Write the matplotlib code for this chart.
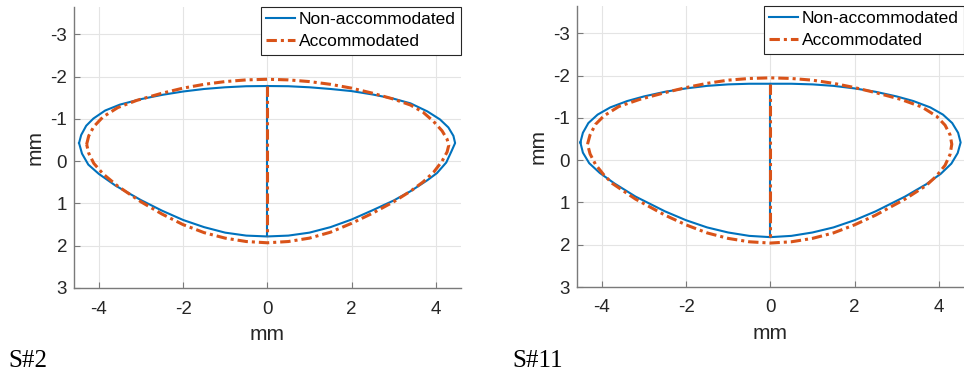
import numpy as np
import matplotlib.pyplot as plt

# lens profiles (mm); y grows downwards (posterior)
# S#2, non-accommodated
s2_na_ant_x = [-4.47, -4.42, -4.30, -4.13, -3.85, -3.50, -3.00, -2.50, -2.00, -1.50, -1.00, -0.50, 0.00,
               0.50, 1.00, 1.50, 2.00, 2.50, 3.00, 3.40, 3.80, 4.10, 4.30, 4.42, 4.46]
s2_na_ant_y = [-0.43, -0.62, -0.84, -1.01, -1.20, -1.34, -1.47, -1.57, -1.65, -1.71, -1.75, -1.775, -1.78,
               -1.775, -1.75, -1.71, -1.66, -1.58, -1.48, -1.37, -1.18, -0.99, -0.80, -0.60, -0.43]
s2_na_post_x = [-4.47, -4.40, -4.25, -4.00, -3.60, -3.00, -2.50, -2.00, -1.50, -1.00, -0.50, 0.00,
                0.50, 1.00, 1.50, 2.00, 2.50, 3.00, 3.40, 3.80, 4.03, 4.25, 4.38, 4.46]
s2_na_post_y = [-0.43, -0.18, 0.08, 0.30, 0.58, 0.92, 1.17, 1.39, 1.56, 1.69, 1.76, 1.78,
                1.76, 1.69, 1.56, 1.38, 1.16, 0.93, 0.71, 0.45, 0.28, 0.03, -0.25, -0.43]
# S#2, accommodated
s2_ac_ant_x = [-4.29, -4.24, -4.12, -3.90, -3.55, -3.10, -2.50, -2.00, -1.50, -1.00, -0.50, 0.00,
               0.50, 1.00, 1.50, 2.00, 2.50, 3.00, 3.40, 3.70, 3.95, 4.15, 4.27, 4.31]
s2_ac_ant_y = [-0.40, -0.60, -0.82, -1.05, -1.27, -1.44, -1.61, -1.73, -1.82, -1.885, -1.925, -1.94,
               -1.925, -1.885, -1.82, -1.73, -1.61, -1.47, -1.33, -1.16, -0.94, -0.72, -0.52, -0.38]
s2_ac_post_x = [-4.29, -4.24, -4.12, -3.90, -3.55, -3.00, -2.50, -2.00, -1.50, -1.00, -0.50, 0.00,
                0.50, 1.00, 1.50, 2.00, 2.50, 3.00, 3.40, 3.70, 3.95, 4.15, 4.27, 4.31]
s2_ac_post_y = [-0.40, -0.19, 0.05, 0.30, 0.59, 0.96, 1.25, 1.50, 1.69, 1.82, 1.90, 1.93,
                1.90, 1.82, 1.68, 1.47, 1.23, 0.96, 0.71, 0.49, 0.26, 0.00, -0.22, -0.38]
s2_center = [-1.79, 1.78]

# S#11, non-accommodated
s11_na_ant_x = [-4.51, -4.45, -4.32, -4.10, -3.80, -3.40, -3.00, -2.50, -2.00, -1.50, -1.00, -0.50, 0.00,
                0.50, 1.00, 1.50, 2.00, 2.50, 3.00, 3.40, 3.80, 4.10, 4.32, 4.46, 4.52]
s11_na_ant_y = [-0.42, -0.65, -0.88, -1.08, -1.25, -1.40, -1.51, -1.62, -1.70, -1.76, -1.795, -1.81, -1.81,
                -1.81, -1.795, -1.76, -1.70, -1.62, -1.51, -1.40, -1.25, -1.08, -0.88, -0.65, -0.42]
s11_na_post_x = [-4.51, -4.45, -4.30, -4.05, -3.70, -3.20, -2.50, -2.00, -1.50, -1.00, -0.50, 0.00,
                 0.50, 1.00, 1.50, 2.00, 2.50, 3.20, 3.70, 4.05, 4.30, 4.45, 4.52]
s11_na_post_y = [-0.42, -0.18, 0.07, 0.30, 0.55, 0.86, 1.21, 1.42, 1.59, 1.71, 1.79, 1.82,
                 1.79, 1.71, 1.59, 1.42, 1.21, 0.86, 0.57, 0.32, 0.08, -0.17, -0.42]
# S#11, accommodated
s11_ac_ant_x = [-4.34, -4.28, -4.15, -3.95, -3.60, -3.10, -2.50, -2.00, -1.50, -1.00, -0.50, 0.00,
                0.50, 1.00, 1.50, 2.00, 2.50, 3.10, 3.60, 3.95, 4.15, 4.27, 4.31]
s11_ac_ant_y = [-0.38, -0.60, -0.85, -1.05, -1.27, -1.44, -1.60, -1.72, -1.82, -1.895, -1.935, -1.95,
                -1.935, -1.895, -1.82, -1.72, -1.60, -1.44, -1.26, -1.04, -0.83, -0.60, -0.38]
s11_ac_post_x = [-4.34, -4.28, -4.15, -3.95, -3.75, -3.20, -2.50, -2.00, -1.50, -1.00, -0.50, 0.00,
                 0.50, 1.00, 1.50, 2.00, 2.50, 3.20, 3.70, 3.95, 4.15, 4.27, 4.31]
s11_ac_post_y = [-0.38, -0.15, 0.10, 0.35, 0.55, 0.92, 1.30, 1.53, 1.72, 1.85, 1.93, 1.96,
                 1.93, 1.85, 1.72, 1.53, 1.30, 0.92, 0.60, 0.37, 0.12, -0.14, -0.38]
s11_center = [-1.81, 1.81]

ticks_x = [-4, -2, 0, 2, 4]
ticks_y = [-3, -2, -1, 0, 1, 2, 3]

BLUE = '#0072BD'
ORANGE = '#D95319'
DASHDOT = (0, (3.4, 1.3, 1.0, 1.3))

plt.rcParams['font.family'] = ['Liberation Sans', 'DejaVu Sans']
plt.rcParams['axes.unicode_minus'] = False
fig = plt.figure(figsize=(9.64, 3.72), dpi=100)

panels = [
    ([74 / 964, 84 / 372, 387 / 964, 281 / 372], 'S#2', 8,
     (s2_na_ant_x, s2_na_ant_y, s2_na_post_x, s2_na_post_y),
     (s2_ac_ant_x, s2_ac_ant_y, s2_ac_post_x, s2_ac_post_y), s2_center),
    ([577 / 964, 85 / 372, 387 / 964, 281 / 372], 'S#11', 512,
     (s11_na_ant_x, s11_na_ant_y, s11_na_post_x, s11_na_post_y),
     (s11_ac_ant_x, s11_ac_ant_y, s11_ac_post_x, s11_ac_post_y), s11_center),
]

for pos, tag, tag_x, na, ac, center in panels:
    ax = fig.add_axes(pos)
    # outline = anterior surface then posterior back to the start
    na_x = np.r_[na[0], na[2][::-1]]
    na_y = np.r_[na[1], na[3][::-1]]
    ac_x = np.r_[ac[0], ac[2][::-1]]
    ac_y = np.r_[ac[1], ac[3][::-1]]
    ax.plot(na_x, na_y, color=BLUE, lw=1.5, label='Non-accommodated', zorder=3)
    ax.plot(ac_x, ac_y, color=ORANGE, lw=2.2, ls=DASHDOT, label='Accommodated', zorder=4)
    ax.plot([0, 0], center, color=BLUE, lw=1.5, zorder=3)
    ax.plot([0, 0], center, color=ORANGE, lw=2.2, ls=DASHDOT, zorder=4)

    ax.set_xlim(-4.59, 4.6)
    ax.set_ylim(2.99, -3.65)
    ax.set_xticks(ticks_x)
    ax.set_yticks(ticks_y)
    ax.grid(True, color='#e4e4e4', lw=0.8)
    ax.set_axisbelow(True)
    for s in ['top', 'right']:
        ax.spines[s].set_visible(False)
    for s in ['left', 'bottom']:
        ax.spines[s].set_color('#7a7a7a')
        ax.spines[s].set_linewidth(1.0)
    ax.tick_params(direction='in', length=4, color='#7a7a7a', labelcolor='#262626', labelsize=13.5)
    ax.tick_params(axis='x', pad=9)
    ax.tick_params(axis='y', pad=5)

    ax.set_xlabel('mm', fontsize=15, color='#262626', va='center')
    ax.set_ylabel('mm', fontsize=15, color='#262626', va='center')
    ax.xaxis.set_label_coords(0.5, -0.167)
    ax.yaxis.set_label_coords(-0.10, 0.5)

    leg = ax.legend(loc='upper right', bbox_to_anchor=(1.0, 1.0), borderaxespad=0,
                    fontsize=12.5, fancybox=False, framealpha=1, edgecolor='#262626',
                    handlelength=1.7, handletextpad=0.2, borderpad=0.3, labelspacing=0.4)
    leg.get_frame().set_linewidth(0.8)

    fig.text(tag_x / 964, 1 - 367 / 372, tag, fontsize=18, family='Liberation Serif',
             ha='left', va='baseline', color='black')

fig.savefig('out.png', dpi=100)
